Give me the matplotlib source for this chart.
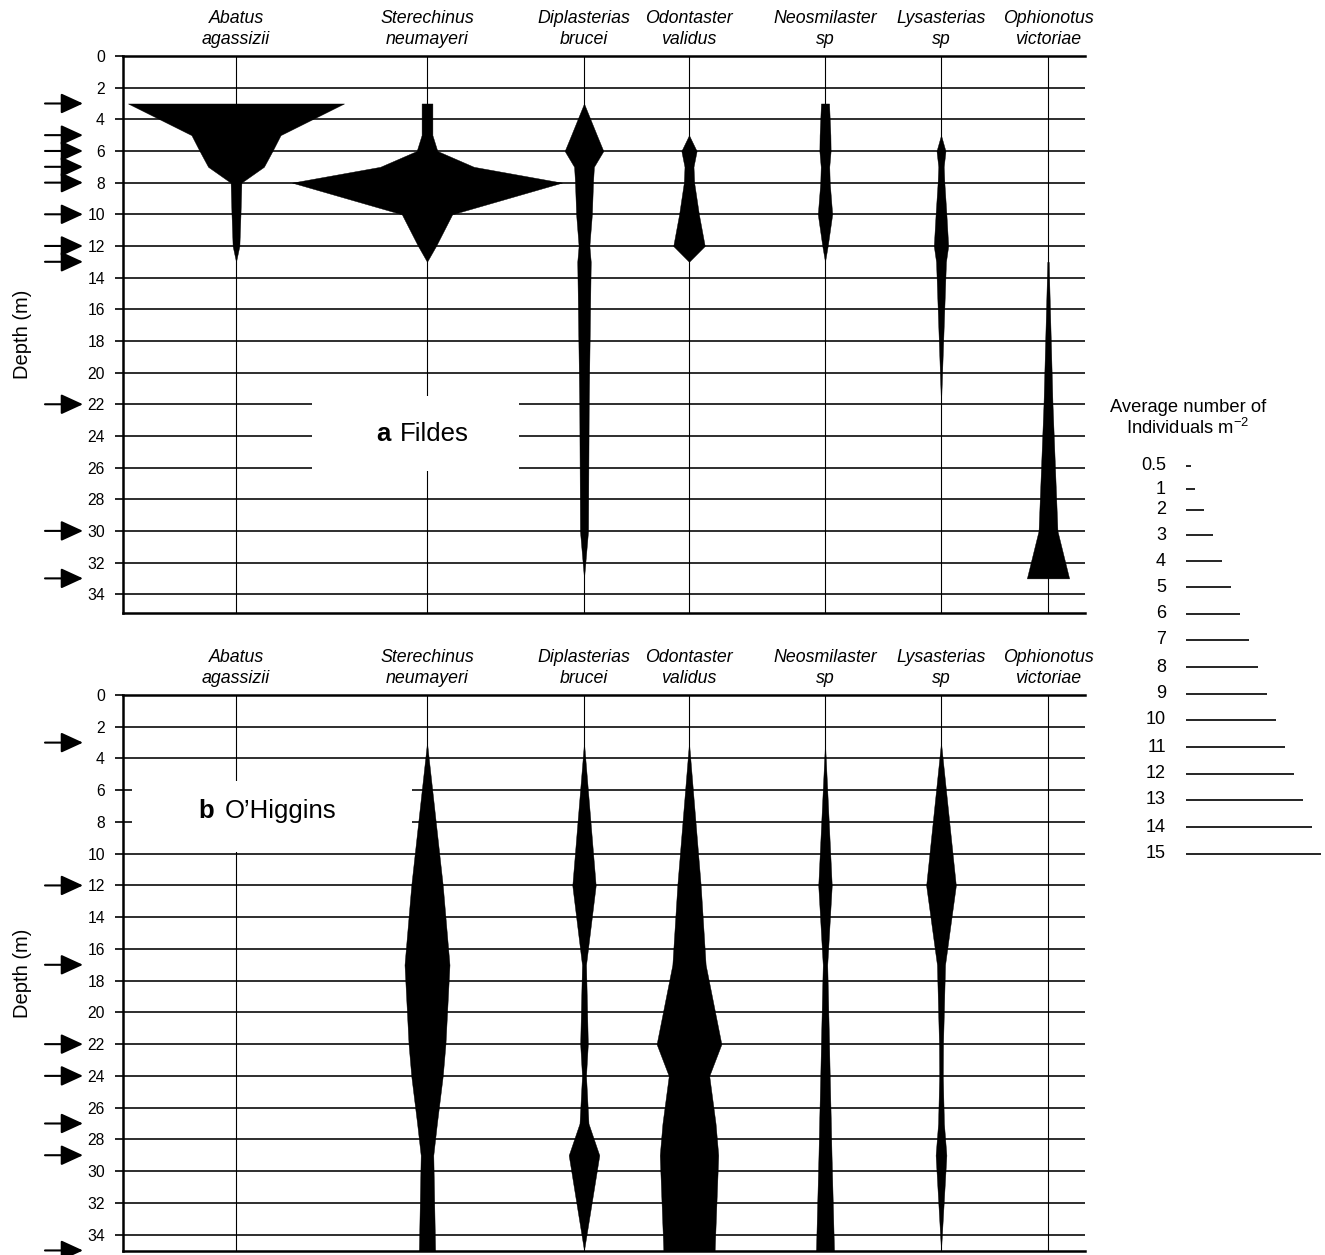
import matplotlib
matplotlib.use("Agg")
import matplotlib.pyplot as plt
from matplotlib.patches import Rectangle
from matplotlib.transforms import blended_transform_factory

plt.rcParams['font.family'] = ['Liberation Sans', 'DejaVu Sans']
plt.rcParams['mathtext.fontset'] = 'custom'
plt.rcParams['mathtext.rm'] = 'Liberation Sans'
plt.rcParams['mathtext.it'] = 'Liberation Sans:italic'

# ---------------- data ----------------
species_line1 = ["Abatus", "Sterechinus", "Diplasterias", "Odontaster",
                 "Neosmilaster", "Lysasterias", "Ophionotus"]
species_line2 = ["agassizii", "neumayeri", "brucei", "validus",
                 "sp", "sp", "victoriae"]

depth_ticks = list(range(0, 35, 2))

fildes_sample_depths = [3, 5, 6, 7, 8, 10, 12, 13, 22, 30, 33]
ohiggins_sample_depths = [3, 12, 17, 22, 24, 27, 29, 35]

# Fildes: depth (m) and average number of individuals m-2
fildes_abatus_depth = [3, 5, 6, 7, 8, 10, 12, 13]
fildes_abatus_n = [24, 9.9, 8.1, 6.2, 1.2, 1.0, 0.75, 0]
fildes_sterechinus_depth = [3, 5, 6, 7, 8, 10, 12, 13]
fildes_sterechinus_n = [1.2, 1.2, 2.3, 10.4, 30, 5.6, 2.0, 0]
fildes_diplasterias_depth = [3, 5, 6, 7, 8, 10, 12, 13, 22, 30, 33]
fildes_diplasterias_n = [0, 2.85, 4.3, 2.2, 2.0, 1.75, 1.2, 1.5, 1.05, 0.9, 0]
fildes_odontaster_depth = [5, 6, 7, 8, 10, 12, 13]
fildes_odontaster_n = [0, 1.7, 1.0, 1.15, 2.2, 3.5, 0]
fildes_neosmilaster_depth = [3, 5, 6, 7, 8, 10, 12, 13]
fildes_neosmilaster_n = [0.9, 1.2, 1.25, 0.95, 1.05, 1.6, 0.6, 0]
fildes_lysasterias_depth = [5, 6, 7, 8, 10, 12, 13, 22]
fildes_lysasterias_n = [0, 1.0, 0.6, 0.75, 1.2, 1.6, 1.1, 0]
fildes_ophionotus_depth = [13, 22, 30, 33]
fildes_ophionotus_n = [0.15, 1.0, 2.1, 4.7]

# O'Higgins
ohig_sterechinus_depth = [3, 12, 17, 22, 24, 27, 29, 35]
ohig_sterechinus_n = [0, 3.5, 5.0, 4.1, 3.5, 2.2, 1.4, 1.8]
ohig_diplasterias_depth = [3, 12, 17, 22, 24, 27, 29, 35]
ohig_diplasterias_n = [0, 2.6, 0.45, 0.85, 0.45, 1.0, 3.4, 0]
ohig_odontaster_depth = [3, 12, 17, 22, 24, 27, 29, 35]
ohig_odontaster_n = [0, 2.6, 3.7, 7.2, 4.5, 5.9, 6.5, 5.7]
ohig_neosmilaster_depth = [3, 12, 17, 22, 24, 27, 29, 35]
ohig_neosmilaster_n = [0, 1.5, 0.5, 0.9, 1.05, 1.3, 1.45, 2.0]
ohig_lysasterias_depth = [3, 12, 17, 22, 24, 27, 29, 35]
ohig_lysasterias_n = [0, 3.3, 0.9, 0.45, 0.4, 0.65, 1.2, 0]

legend_values = [0.5, 1, 2, 3, 4, 5, 6, 7, 8, 9, 10, 11, 12, 13, 14, 15]
legend_labels = ["0.5", "1", "2", "3", "4", "5", "6", "7", "8", "9",
                 "10", "11", "12", "13", "14", "15"]

fildes_series = [
    (0, fildes_abatus_depth, fildes_abatus_n),
    (1, fildes_sterechinus_depth, fildes_sterechinus_n),
    (2, fildes_diplasterias_depth, fildes_diplasterias_n),
    (3, fildes_odontaster_depth, fildes_odontaster_n),
    (4, fildes_neosmilaster_depth, fildes_neosmilaster_n),
    (5, fildes_lysasterias_depth, fildes_lysasterias_n),
    (6, fildes_ophionotus_depth, fildes_ophionotus_n),
]
ohig_series = [
    (1, ohig_sterechinus_depth, ohig_sterechinus_n),
    (2, ohig_diplasterias_depth, ohig_diplasterias_n),
    (3, ohig_odontaster_depth, ohig_odontaster_n),
    (4, ohig_neosmilaster_depth, ohig_neosmilaster_n),
    (5, ohig_lysasterias_depth, ohig_lysasterias_n),
]

# ---------------- layout ----------------
W, H = 1325, 1255
PX_PER_UNIT = 9.0
AX_LEFT, AX_RIGHT = 123, 1085
column_px = [236, 427, 584, 689, 825, 941, 1048]
column_x = [(p - AX_LEFT) / PX_PER_UNIT for p in column_px]
XMAX = (AX_RIGHT - AX_LEFT) / PX_PER_UNIT

fig = plt.figure(figsize=(W / 100, H / 100), dpi=100)


def rect(left, top, right, bottom):
    return [left / W, 1 - bottom / H, (right - left) / W, (bottom - top) / H]


def setup_axes(top_px, bottom_px, px_per_m):
    ax = fig.add_axes(rect(AX_LEFT, top_px, AX_RIGHT, bottom_px))
    ax.set_xlim(0, XMAX)
    ax.set_ylim((bottom_px - top_px) / px_per_m, 0)
    ax.set_xticks([])
    ax.set_yticks(depth_ticks)
    ax.spines['right'].set_visible(False)
    for s in ['left', 'top', 'bottom']:
        ax.spines[s].set_linewidth(1.8)
        ax.spines[s].set_zorder(5)
    ax.tick_params(axis='y', direction='out', length=6, width=1.2,
                   labelsize=11.3, pad=7)
    for d in depth_ticks[1:]:
        ax.axhline(d, color='black', lw=1.15, zorder=1)
    for cx in column_x:
        ax.axvline(cx, color='black', lw=0.8, zorder=1)
    tr = blended_transform_factory(ax.transData, ax.transAxes)
    for l1, l2, cx in zip(species_line1, species_line2, column_x):
        ax.text(cx, 1 + 27.0 / (bottom_px - top_px),
                f"{l1}\n{l2}", transform=tr, ha='center', va='center',
                style='italic', fontsize=12.8, linespacing=1.32)
    return ax


def draw_arrows(ax, depths):
    x_tail = (45 - AX_LEFT) / PX_PER_UNIT
    x_tip = (83 - AX_LEFT) / PX_PER_UNIT
    for d in depths:
        ax.annotate('', xy=(x_tip, d), xytext=(x_tail, d),
                    arrowprops=dict(arrowstyle='-|>,head_length=1.35,head_width=0.62',
                                    mutation_scale=10, color='black', lw=1.5,
                                    shrinkA=0, shrinkB=0),
                    annotation_clip=False)


def draw_kites(ax, series):
    for idx, depths, n in series:
        cx = column_x[idx]
        left = [cx - v / 2 for v in n]
        right = [cx + v / 2 for v in n]
        ax.fill_betweenx(depths, left, right, color='black', lw=0.3, zorder=3)


# top panel (Fildes)
ax1 = setup_axes(56, 613, 15.83)
draw_kites(ax1, fildes_series)
draw_arrows(ax1, fildes_sample_depths)
ax1.add_patch(Rectangle(((312 - AX_LEFT) / PX_PER_UNIT, 21.5),
                        (519 - 312) / PX_PER_UNIT, 4.7,
                        facecolor='white', edgecolor='none', zorder=2))
ax1.text((391 - AX_LEFT) / PX_PER_UNIT, 23.9, "a", fontsize=18.5,
         fontweight='bold', ha='right', va='center', zorder=4)
ax1.text((400 - AX_LEFT) / PX_PER_UNIT, 23.9, "Fildes", fontsize=18.5,
         ha='left', va='center', zorder=4)

# bottom panel (O'Higgins)
ax2 = setup_axes(695, 1251, 15.87)
draw_kites(ax2, ohig_series)
draw_arrows(ax2, ohiggins_sample_depths)
ax2.add_patch(Rectangle(((132 - AX_LEFT) / PX_PER_UNIT, 5.4),
                        (412 - 132) / PX_PER_UNIT, 4.5,
                        facecolor='white', edgecolor='none', zorder=2))
ax2.text((214 - AX_LEFT) / PX_PER_UNIT, 7.3, "b", fontsize=18.5,
         fontweight='bold', ha='right', va='center', zorder=4)
ax2.text((225 - AX_LEFT) / PX_PER_UNIT, 7.3, "O\u2019Higgins", fontsize=18.5,
         ha='left', va='center', zorder=4)

# y labels
fig.text(23 / W, 1 - 334 / H, "Depth (m)", rotation=90, ha='center',
         va='center', fontsize=14.5)
fig.text(23 / W, 1 - 973 / H, "Depth (m)", rotation=90, ha='center',
         va='center', fontsize=14.5)

# legend
fig.text(1188 / W, 1 - 407 / H, "Average number of", ha='center',
         va='center', fontsize=13.2)
fig.text(1188 / W, 1 - 428 / H, "Individuals m$^{\\mathrm{-2}}$", ha='center',
         va='center', fontsize=13.2)

legend_y_px = [466, 489, 510, 535, 561, 587, 614, 640, 667, 694, 720,
               747, 774, 800, 827, 854]
LEG_LEFT = 1186
lax = fig.add_axes(rect(LEG_LEFT, 450, LEG_LEFT + 15 * PX_PER_UNIT, 870))
lax.set_xlim(0, 15)
lax.set_ylim(870, 450)
lax.axis('off')
lax.hlines(legend_y_px, 0, legend_values, color='black', lw=1.2)
for y, lab in zip(legend_y_px, legend_labels):
    lax.text((1166 - LEG_LEFT) / PX_PER_UNIT, y, lab, ha='right', va='center',
             fontsize=13, clip_on=False)

fig.savefig("out.png", dpi=100)
